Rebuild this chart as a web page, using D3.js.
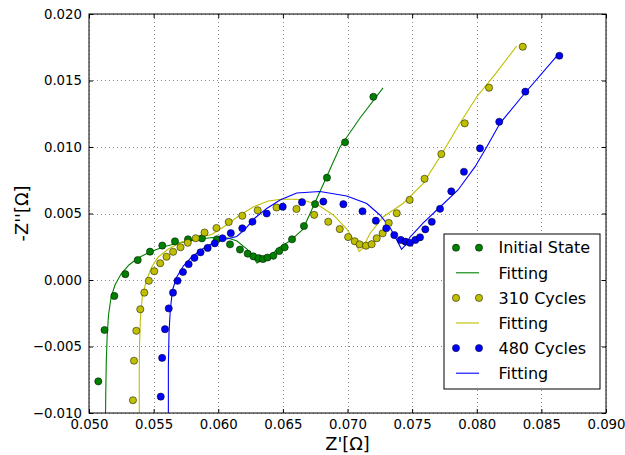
<!DOCTYPE html>
<html>
<head>
<meta charset="utf-8">
<script src="https://cdn.jsdelivr.net/npm/d3@7"></script>
<style>
  body { margin: 0; background: #fff; }
  text { font-family: "DejaVu Sans", sans-serif; }
</style>
</head>
<body>
<div id="chart-area"></div>
<script>
const MARGIN = { LEFT: 89, RIGHT: 19, TOP: 14, BOTTOM: 42 }
const W = 625, H = 455

// Initial State (measured points)
const initX = [0.05072, 0.05120, 0.05196, 0.05281, 0.05377, 0.05472, 0.05567, 0.05665, 0.05766, 0.05874,
  0.05990, 0.06091, 0.06168, 0.06228, 0.06271, 0.06313, 0.06346, 0.06381, 0.06426, 0.06472,
  0.06514, 0.06571, 0.06663, 0.06749, 0.06841, 0.06981, 0.07200]
const initY = [-0.00762, -0.00376, -0.00120, 0.00044, 0.00150, 0.00213, 0.00259, 0.00291, 0.00306, 0.00313,
  0.00306, 0.00268, 0.00229, 0.00198, 0.00178, 0.00164, 0.00158, 0.00169, 0.00182, 0.00218,
  0.00246, 0.00306, 0.00406, 0.00571, 0.00769, 0.01035, 0.01378]
const initFitX = [0.05128, 0.05130, 0.05134, 0.05141, 0.05151, 0.05170, 0.05201, 0.05248, 0.05309, 0.05379,
  0.05472, 0.05573, 0.05689, 0.05820, 0.05952, 0.06075, 0.06145, 0.06222, 0.06300, 0.06323,
  0.06385, 0.06478, 0.06555, 0.06656, 0.06733, 0.06803, 0.06942, 0.07097, 0.07275]
const initFitY = [-0.01000, -0.00827, -0.00602, -0.00414, -0.00263, -0.00135, -0.00038, 0.00045, 0.00113, 0.00165,
  0.00211, 0.00248, 0.00278, 0.00301, 0.00320, 0.00316, 0.00293, 0.00233, 0.00128, 0.00139,
  0.00169, 0.00248, 0.00293, 0.00383, 0.00549, 0.00699, 0.01000, 0.01218, 0.01444]

// 310 Cycles
const c310X = [0.05340, 0.05348, 0.05366, 0.05397, 0.05428, 0.05463, 0.05505, 0.05551, 0.05600, 0.05651,
  0.05708, 0.05764, 0.05826, 0.05894, 0.05986, 0.06081, 0.06186, 0.06305, 0.06451, 0.06605,
  0.06742, 0.06851, 0.06940, 0.07005, 0.07056, 0.07094, 0.07143, 0.07187, 0.07226, 0.07272,
  0.07319, 0.07381, 0.07481, 0.07596, 0.07726, 0.07907, 0.08095, 0.08356]
const c310Y = [-0.00904, -0.00607, -0.00382, -0.00220, -0.00095, -0.00006, 0.00066, 0.00126, 0.00175, 0.00212,
  0.00246, 0.00280, 0.00314, 0.00357, 0.00391, 0.00436, 0.00483, 0.00524, 0.00545, 0.00534,
  0.00490, 0.00438, 0.00383, 0.00323, 0.00291, 0.00268, 0.00258, 0.00269, 0.00314, 0.00351,
  0.00429, 0.00502, 0.00602, 0.00761, 0.00947, 0.01178, 0.01446, 0.01754]
const c310FitX = [0.05389, 0.05389, 0.05391, 0.05397, 0.05412, 0.05445, 0.05485, 0.05536, 0.05614, 0.05717,
  0.05820, 0.05949, 0.06065, 0.06168, 0.06271, 0.06387, 0.06501, 0.06632, 0.06762, 0.06890,
  0.06994, 0.07058, 0.07091, 0.07118, 0.07174, 0.07277, 0.07432, 0.07586, 0.07716, 0.07870,
  0.08000, 0.08128, 0.08309]
const c310FitY = [-0.01000, -0.00677, -0.00489, -0.00301, -0.00128, 0.00000, 0.00098, 0.00173, 0.00233, 0.00286,
  0.00312, 0.00342, 0.00414, 0.00489, 0.00549, 0.00594, 0.00609, 0.00605, 0.00571, 0.00489,
  0.00383, 0.00286, 0.00214, 0.00241, 0.00350, 0.00476, 0.00577, 0.00727, 0.00927, 0.01178,
  0.01378, 0.01529, 0.01759]

// 480 Cycles
const c480X = [0.05555, 0.05566, 0.05588, 0.05617, 0.05650, 0.05685, 0.05727, 0.05771, 0.05816, 0.05863,
  0.05918, 0.05973, 0.06033, 0.06097, 0.06186, 0.06265, 0.06375, 0.06499, 0.06648, 0.06813,
  0.06968, 0.07116, 0.07219, 0.07300, 0.07362, 0.07412, 0.07449, 0.07484, 0.07525, 0.07561,
  0.07602, 0.07652, 0.07716, 0.07803, 0.07901, 0.08025, 0.08174, 0.08376, 0.08639]
const c480Y = [-0.00877, -0.00586, -0.00370, -0.00214, -0.00095, -0.00006, 0.00060, 0.00119, 0.00167, 0.00208,
  0.00241, 0.00276, 0.00314, 0.00352, 0.00389, 0.00438, 0.00500, 0.00551, 0.00585, 0.00590,
  0.00570, 0.00517, 0.00446, 0.00389, 0.00338, 0.00301, 0.00288, 0.00280, 0.00301, 0.00321,
  0.00381, 0.00438, 0.00535, 0.00667, 0.00814, 0.00990, 0.01190, 0.01416, 0.01686]
const c480FitX = [0.05614, 0.05614, 0.05619, 0.05629, 0.05646, 0.05679, 0.05730, 0.05795, 0.05884, 0.05975,
  0.06065, 0.06143, 0.06207, 0.06284, 0.06375, 0.06478, 0.06607, 0.06787, 0.06994, 0.07149,
  0.07251, 0.07329, 0.07381, 0.07418, 0.07445, 0.07484, 0.07586, 0.07716, 0.07855, 0.07986,
  0.08077, 0.08180, 0.08360, 0.08619]
const c480FitY = [-0.01000, -0.00654, -0.00398, -0.00226, -0.00075, 0.00023, 0.00105, 0.00173, 0.00237, 0.00286,
  0.00308, 0.00327, 0.00383, 0.00466, 0.00538, 0.00602, 0.00654, 0.00665, 0.00632, 0.00575,
  0.00489, 0.00395, 0.00301, 0.00231, 0.00259, 0.00323, 0.00429, 0.00549, 0.00677, 0.00850,
  0.01000, 0.01178, 0.01391, 0.01684]

const xTicks = [0.050, 0.055, 0.060, 0.065, 0.070, 0.075, 0.080, 0.085, 0.090]
const yTicks = [-0.010, -0.005, 0.000, 0.005, 0.010, 0.015, 0.020]
const legendLabels = ["Initial State", "Fitting", "310 Cycles", "Fitting", "480 Cycles", "Fitting"]

const zip = (xs, ys) => xs.map((x, i) => [x, ys[i]])

const series = [
  { pts: zip(initX, initY), fit: zip(initFitX, initFitY), color: "#008000" },
  { pts: zip(c310X, c310Y), fit: zip(c310FitX, c310FitY), color: "#bfbf00" },
  { pts: zip(c480X, c480Y), fit: zip(c480FitX, c480FitY), color: "#0000ff" },
]

const x = d3.scaleLinear().domain([0.05, 0.09]).range([MARGIN.LEFT, W - MARGIN.RIGHT])
const y = d3.scaleLinear().domain([-0.01, 0.02]).range([H - MARGIN.BOTTOM, MARGIN.TOP])

const fmt = v => d3.format(".3f")(v).replace("-", "\u2212")

const svg = d3.select("#chart-area").append("svg")
  .attr("width", W)
  .attr("height", H)

svg.append("defs").append("clipPath").attr("id", "clip")
  .append("rect")
    .attr("x", MARGIN.LEFT).attr("y", MARGIN.TOP)
    .attr("width", x.range()[1] - x.range()[0])
    .attr("height", y.range()[0] - y.range()[1])

// grid
const grid = svg.append("g")
  .attr("stroke", "#888")
  .attr("stroke-width", 1)
  .attr("stroke-dasharray", "1,3")
grid.selectAll(".gx").data(xTicks).join("line")
  .attr("x1", d => Math.round(x(d)) + 0.5).attr("x2", d => Math.round(x(d)) + 0.5)
  .attr("y1", y.range()[1]).attr("y2", y.range()[0])
grid.selectAll(".gy").data(yTicks).join("line")
  .attr("y1", d => Math.round(y(d)) + 0.5).attr("y2", d => Math.round(y(d)) + 0.5)
  .attr("x1", x.range()[0]).attr("x2", x.range()[1])

// fits and points
const line = d3.line().x(d => x(d[0])).y(d => y(d[1]))
const plot = svg.append("g").attr("clip-path", "url(#clip)")

series.forEach(s => {
  plot.append("path")
    .attr("fill", "none")
    .attr("stroke", s.color)
    .attr("stroke-width", 1.1)
    .attr("d", line(s.fit))
})
series.forEach(s => {
  plot.append("g")
    .selectAll("circle")
    .data(s.pts)
    .join("circle")
      .attr("cx", d => x(d[0]))
      .attr("cy", d => y(d[1]))
      .attr("r", 3.6)
      .attr("fill", s.color)
      .attr("stroke", "#000")
      .attr("stroke-width", 0.5)
})

// axes: inward ticks on all four sides
const tickStyle = g => {
  g.select(".domain").remove()
  g.selectAll("text").attr("font-family", "DejaVu Sans").attr("font-size", 13.3).attr("fill", "#000")
}
svg.append("g")
  .attr("transform", `translate(0,${y.range()[0]})`)
  .call(d3.axisBottom(x).tickValues(xTicks).tickFormat(fmt).tickSizeInner(-4).tickSizeOuter(0).tickPadding(7))
  .call(tickStyle)
svg.append("g")
  .attr("transform", `translate(0,${y.range()[1]})`)
  .call(d3.axisTop(x).tickValues(xTicks).tickFormat("").tickSizeInner(-4).tickSizeOuter(0))
  .call(tickStyle)
svg.append("g")
  .attr("transform", `translate(${x.range()[0]},0)`)
  .call(d3.axisLeft(y).tickValues(yTicks).tickFormat(fmt).tickSizeInner(-4).tickSizeOuter(0).tickPadding(7))
  .call(tickStyle)
svg.append("g")
  .attr("transform", `translate(${x.range()[1]},0)`)
  .call(d3.axisRight(y).tickValues(yTicks).tickFormat("").tickSizeInner(-4).tickSizeOuter(0))
  .call(tickStyle)

svg.append("rect")
  .attr("x", x.range()[0]).attr("y", y.range()[1])
  .attr("width", x.range()[1] - x.range()[0])
  .attr("height", y.range()[0] - y.range()[1])
  .attr("fill", "none")
  .attr("stroke", "#000")
  .attr("stroke-width", 1)

// axis labels
svg.append("text")
  .attr("x", (x.range()[0] + x.range()[1]) / 2)
  .attr("y", 450)
  .attr("text-anchor", "middle")
  .attr("font-size", 17.8)
  .text("Z'[\u03a9]")

svg.append("text")
  .attr("transform", `translate(28,${(y.range()[0] + y.range()[1]) / 2}) rotate(-90)`)
  .attr("text-anchor", "middle")
  .attr("font-size", 17.8)
  .text("-Z''[\u03a9]")

// legend
const lg = svg.append("g").attr("transform", "translate(444,234)")
lg.append("rect")
  .attr("width", 156).attr("height", 155)
  .attr("fill", "#fff")
  .attr("stroke", "#000")
  .attr("stroke-width", 1)

const rows = lg.selectAll(".row").data(legendLabels).join("g")
  .attr("transform", (d, i) => `translate(0,${13.7 + i * 25.1})`)

rows.each(function (d, i) {
  const g = d3.select(this)
  const s = series[Math.floor(i / 2)]
  if (i % 2 === 0) {
    g.selectAll("circle").data([12, 35]).join("circle")
      .attr("cx", v => v).attr("cy", 0).attr("r", 3.6)
      .attr("fill", s.color).attr("stroke", "#000").attr("stroke-width", 0.5)
  } else {
    g.append("line").attr("x1", 12).attr("x2", 35)
      .attr("stroke", s.color).attr("stroke-width", 1.1)
  }
  g.append("text")
    .attr("x", 54.5).attr("y", 0).attr("dy", "0.36em")
    .attr("font-size", 16)
    .text(d)
})
</script>
</body>
</html>
